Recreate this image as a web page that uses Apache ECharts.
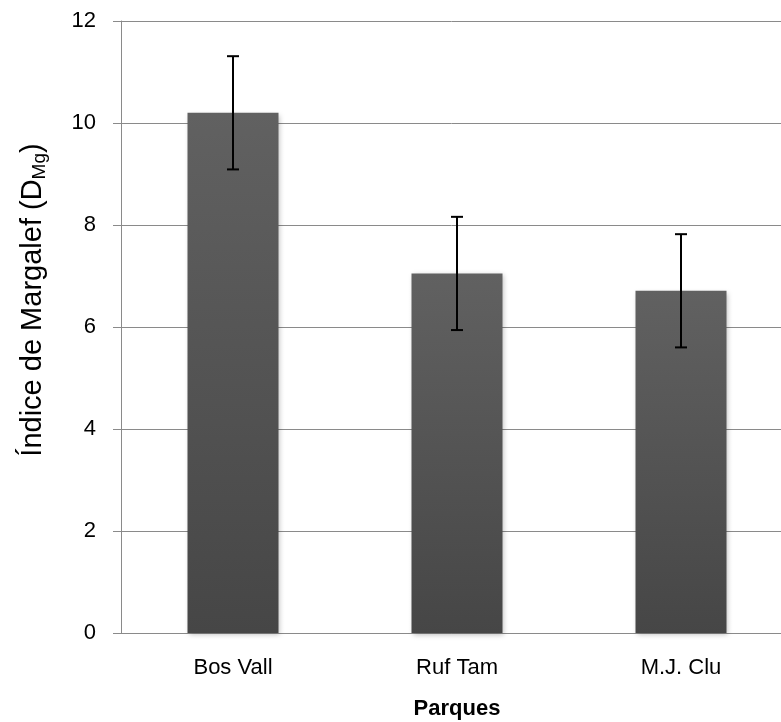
<!DOCTYPE html>
<html>
<head>
<meta charset="utf-8">
<script src="https://cdn.jsdelivr.net/npm/echarts@6/dist/echarts.min.js"></script>
<style>
html,body{margin:0;padding:0;background:#fff;}
#chart{width:781px;height:722px;}
</style>
</head>
<body>
<div id="chart"></div>
<script>
var categories = ['Bos Vall', 'Ruf Tam', 'M.J. Clu'];
var values = [10.2, 7.05, 6.71];
var errors = [1.11, 1.11, 1.11];
var yTicks = [0, 2, 4, 6, 8, 10, 12];

var chart = echarts.init(document.getElementById('chart'));
var FONT = '"Liberation Sans", Arial, sans-serif';
var gridColor = '#8a8a8a';

var errData = categories.map(function (c, i) {
  return [i, values[i] - errors[i], values[i] + errors[i]];
});

chart.setOption({
  animation: false,
  backgroundColor: '#ffffff',
  grid: { left: 121, top: 21, bottom: 89, width: 672, containLabel: false, outerBoundsMode: 'none' },
  xAxis: {
    type: 'category',
    data: categories,
    axisLine: { show: true, lineStyle: { color: gridColor, width: 1 } },
    axisTick: { show: false },
    axisLabel: { color: '#000', fontFamily: FONT, fontSize: 22, margin: 24 },
    name: 'Parques',
    nameLocation: 'middle',
    nameGap: 65,
    nameTextStyle: { color: '#000', fontFamily: FONT, fontSize: 22, fontWeight: 'bold' }
  },
  yAxis: {
    type: 'value',
    min: yTicks[0],
    max: yTicks[yTicks.length - 1],
    interval: yTicks[1] - yTicks[0],
    axisLine: { show: true, lineStyle: { color: gridColor, width: 1 } },
    axisTick: { show: true, length: 8, lineStyle: { color: gridColor, width: 1 } },
    axisLabel: { color: '#000', fontFamily: FONT, fontSize: 22, margin: 25 },
    splitLine: { show: true, lineStyle: { color: gridColor, width: 1 } }
  },
  graphic: [{
    type: 'text',
    x: 33,
    y: 300,
    rotation: Math.PI / 2,
    style: {
      text: 'Índice de Margalef (D{sub|Mg})',
      fontFamily: FONT,
      fontSize: 29,
      fill: '#000',
      align: 'center',
      verticalAlign: 'middle',
      rich: {
        sub: { fontFamily: FONT, fontSize: 19, fill: '#000', verticalAlign: 'bottom', padding: [13, 0, 0, 0] }
      }
    }
  }],
  series: [{
    type: 'bar',
    data: values,
    barWidth: 91,
    itemStyle: {
      color: new echarts.graphic.LinearGradient(0, 0, 0, 1, [
        { offset: 0, color: '#616161' },
        { offset: 1, color: '#464646' }
      ]),
      shadowBlur: 5,
      shadowColor: 'rgba(0,0,0,0.25)',
      shadowOffsetX: 1,
      shadowOffsetY: 2
    },
    z: 2
  }, {
    type: 'custom',
    data: errData,
    z: 5,
    renderItem: function (params, api) {
      var x = api.value(0);
      var lo = api.coord([x, api.value(1)]);
      var hi = api.coord([x, api.value(2)]);
      var cap = 6;
      var st = { stroke: '#000', lineWidth: 2 };
      return {
        type: 'group',
        children: [
          { type: 'line', shape: { x1: hi[0], y1: hi[1], x2: lo[0], y2: lo[1] }, style: st },
          { type: 'line', shape: { x1: hi[0] - cap, y1: hi[1], x2: hi[0] + cap, y2: hi[1] }, style: st },
          { type: 'line', shape: { x1: lo[0] - cap, y1: lo[1], x2: lo[0] + cap, y2: lo[1] }, style: st }
        ]
      };
    }
  }]
});
</script>
</body>
</html>
